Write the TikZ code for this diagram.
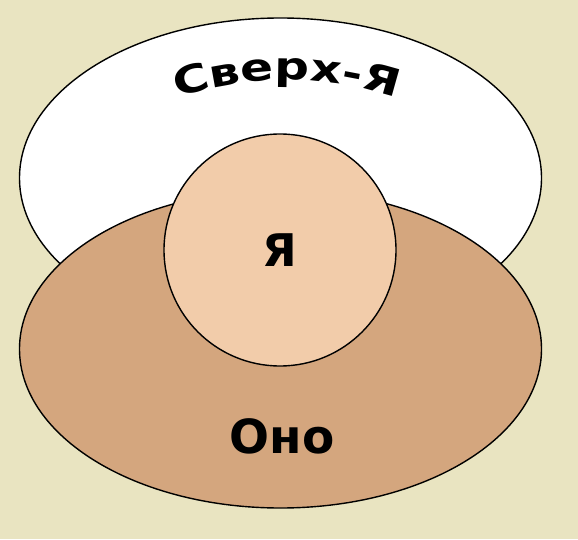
\documentclass[tikz,border=0pt]{standalone}
\usepackage{fontspec}
\setmainfont{DejaVu Sans}
\newfontfamily\arcFont{DejaVu Sans}[FakeStretch=1.28]
\usepackage{xcolor}
\usepackage{tikz}
\usetikzlibrary{shapes.geometric,decorations.text}
\definecolor{bgColor}{HTML}{E9E4C1}
\definecolor{idColor}{HTML}{D4A67E}
\definecolor{egoColor}{HTML}{F2CCAA}

\begin{document}
\begin{tikzpicture}[x=1pt,y=1pt,
part/.style={shape=ellipse,draw=black,line width=1.4pt,inner sep=0},
superEgoPart/.style={part,fill=white,minimum width=522pt,minimum height=320pt},
idPart/.style={part,fill=idColor,minimum width=522pt,minimum height=318pt},
egoPart/.style={part,shape=circle,fill=egoColor,minimum size=232pt},
bigText/.style={font=\bfseries\fontsize{45}{50}\selectfont}
]
\fill[bgColor] (0,0) rectangle (578,539);
\useasboundingbox (0,0) rectangle (578,539);
\node[superEgoPart] (superEgo) at (280.5,361) {};
\node[idPart] (id) at (280.5,190) {};
\node[egoPart,bigText] (ego) at (280,289) {Я};
\node[bigText,font=\bfseries\fontsize{47}{50}\selectfont] (idText) at (282,103) {Оно};
%\draw[red] (287,119) circle (340);
\path[decorate,decoration={text along path,text align=center,
    text={|\arcFont\bfseries\fontsize{38}{40}\selectfont|Сверх-Я}}]
  (287,119) ++(115:340) arc (115:65:340);
\end{tikzpicture}
\end{document}
